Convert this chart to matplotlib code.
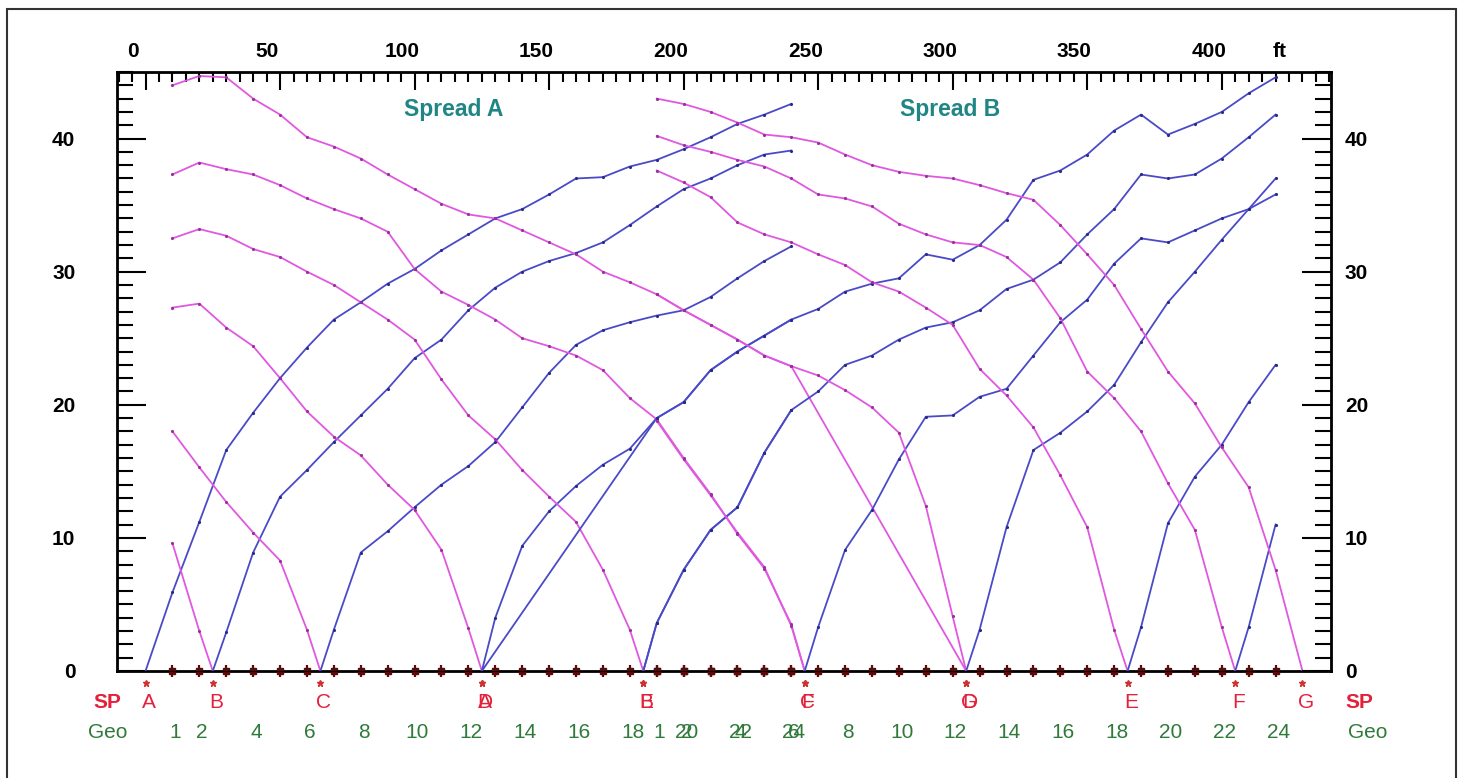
import numpy as np
import matplotlib.pyplot as plt
from matplotlib.patches import Rectangle
from matplotlib.ticker import MultipleLocator

plt.rcParams['font.family'] = ['Liberation Sans', 'DejaVu Sans']

# geophone positions (ft)
geo_a = np.arange(10, 241, 10)
geo_b = np.arange(190, 421, 10)

# shot points (ft) and their letters
sp_a = [0, 25, 65, 125, 185, 245, 305]
sp_b = [125, 185, 245, 305, 365, 405, 430]
sp_names = ['A', 'B', 'C', 'D', 'E', 'F', 'G']

# first-break times, spread A (one value per geophone 1..24)
a_shot_A = [5.9, 11.2, 16.6, 19.4, 22.0, 24.3, 26.4, 27.7, 29.1, 30.2, 31.6, 32.8,
            34.0, 34.7, 35.8, 37.0, 37.1, 37.9, 38.4, 39.2, 40.1, 41.1, 41.8, 42.6]
a_shot_B = [9.6, 3.0, 2.9, 8.9, 13.1, 15.1, 17.2, 19.2, 21.2, 23.5, 24.9, 27.1,
            28.8, 30.0, 30.8, 31.4, 32.2, 33.5, 34.9, 36.2, 37.0, 38.0, 38.8, 39.1]
a_shot_C = [18.0, 15.3, 12.7, 10.4, 8.3, 3.1, 3.1, 8.9, 10.5, 12.3, 14.0, 15.4,
            17.2, 19.8, 22.4, 24.5, 25.6, 26.2, 26.7, 27.1, 28.1, 29.5, 30.8, 31.9]
a_shot_D = [27.3, 27.6, 25.8, 24.4, 22.0, 19.5, 17.6, 16.2, 14.0, 12.1, 9.1, 3.2,
            4.0, 9.4, 12.0, 13.9, 15.5, 16.7, 19.0, 20.2, 22.6, 24.0, 25.2, 26.4]
a_shot_E = [32.5, 33.2, 32.7, 31.7, 31.1, 30.0, 29.0, 27.7, 26.4, 24.9, 21.9, 19.2,
            17.4, 15.1, 13.1, 11.2, 7.6, 3.1, 3.6, 7.6, 10.6, 12.3, 16.4, 19.6]
a_shot_F = [37.3, 38.2, 37.7, 37.3, 36.5, 35.5, 34.7, 34.0, 33.0, 30.2, 28.5, 27.5,
            26.4, 25.0, 24.4, 23.7, 22.6, 20.5, 18.9, 16.0, 13.3, 10.3, 7.7, 3.5]
a_shot_G = [44.0, 44.7, 44.6, 43.0, 41.8, 40.1, 39.4, 38.5, 37.3, 36.2, 35.1, 34.3,
            34.0, 33.1, 32.2, 31.3, 30.0, 29.2, 28.3, 27.1, 26.0, 24.9, 23.7, 22.9]

# first-break times, spread B
b_shot_A = [19.0, 20.2, 22.6, 24.0, 25.2, 26.4, 27.2, 28.5, 29.1, 29.5, 31.3, 30.9,
            32.0, 33.9, 36.9, 37.6, 38.8, 40.6, 41.8, 40.3, 41.1, 42.0, 43.4, 44.6]
b_shot_B = [3.6, 7.6, 10.6, 12.3, 16.4, 19.6, 21.0, 23.0, 23.7, 24.9, 25.8, 26.2,
            27.1, 28.7, 29.4, 30.7, 32.8, 34.7, 37.3, 37.0, 37.3, 38.5, 40.1, 41.8]
b_shot_C = [18.8, 15.9, 13.2, 10.4, 7.8, 3.4, 3.3, 9.1, 12.1, 15.9, 19.1, 19.2,
            20.6, 21.2, 23.7, 26.2, 27.9, 30.6, 32.5, 32.2, 33.1, 34.0, 34.7, 35.8]
b_shot_D = [28.3, 27.1, 26.0, 24.9, 23.7, 22.9, 22.2, 21.1, 19.8, 17.9, 12.4, 4.1,
            3.1, 10.8, 16.6, 17.9, 19.5, 21.5, 24.7, 27.7, 30.0, 32.4, 34.7, 37.0]
b_shot_E = [37.6, 36.7, 35.6, 33.7, 32.8, 32.2, 31.3, 30.5, 29.2, 28.5, 27.3, 26.0,
            22.7, 20.7, 18.3, 14.7, 10.8, 3.1, 3.3, 11.1, 14.6, 17.0, 20.2, 23.0]
b_shot_F = [40.2, 39.5, 39.0, 38.4, 37.9, 37.0, 35.8, 35.5, 34.9, 33.6, 32.8, 32.2,
            32.0, 31.1, 29.4, 26.5, 22.5, 20.5, 18.0, 14.1, 10.6, 3.3, 3.3, 11.0]
b_shot_G = [43.0, 42.6, 42.0, 41.2, 40.3, 40.1, 39.7, 38.8, 38.0, 37.5, 37.2, 37.0,
            36.5, 35.9, 35.4, 33.5, 31.3, 29.0, 25.7, 22.5, 20.1, 16.8, 13.8, 7.6]

# geophone numbers written under the axis
geo_labels = [1, 2, 4, 6, 8, 10, 12, 14, 16, 18, 20, 22, 24]

PINK = '#e058e0'
BLUE = '#4a4ac8'
RED = '#e5203a'
GREEN = '#2f7a3a'


def draw_shot(ax, geo, times, sp):
    t = np.asarray(times, dtype=float)
    left = geo < sp
    right = geo > sp
    if left.any():
        xs = np.append(geo[left], sp)
        ts = np.append(t[left], 0.0)
        ax.plot(xs, ts, color=PINK, lw=1.3, zorder=3)
        ax.plot(geo[left], t[left], '.', ms=2.5, color='#9a309a', zorder=4)
    if right.any():
        xs = np.insert(geo[right], 0, sp)
        ts = np.insert(t[right], 0, 0.0)
        ax.plot(xs, ts, color=BLUE, lw=1.3, zorder=3)
        ax.plot(geo[right], t[right], '.', ms=2.5, color='#2a2a8a', zorder=4)


fig = plt.figure(figsize=(14.62, 7.78), dpi=100)
ax = fig.add_axes([117 / 1462, 1 - 671 / 778, 1214 / 1462, 599 / 778])

spread_a = [a_shot_A, a_shot_B, a_shot_C, a_shot_D, a_shot_E, a_shot_F, a_shot_G]
spread_b = [b_shot_A, b_shot_B, b_shot_C, b_shot_D, b_shot_E, b_shot_F, b_shot_G]
for times, sp in zip(spread_a, sp_a):
    draw_shot(ax, geo_a, times, sp)
for times, sp in zip(spread_b, sp_b):
    draw_shot(ax, geo_b, times, sp)

ax.set_xlim(-10.6, 440.6)
ax.set_ylim(0, 45)

for s in ax.spines.values():
    s.set_linewidth(2)

# top distance axis
ax.xaxis.set_major_locator(MultipleLocator(50))
ax.xaxis.set_minor_locator(MultipleLocator(5))
ax.tick_params(axis='x', which='both', direction='in', top=True, bottom=False,
               labeltop=False, labelbottom=False, width=1.5)
ax.tick_params(axis='x', which='major', length=13)
ax.tick_params(axis='x', which='minor', length=7)
xt = ax.get_xaxis_transform()
for v in range(0, 401, 50):
    ax.text(v - 4.8, 1.035, str(v), transform=xt, ha='center', va='center',
            fontsize=15, fontweight='bold')
ax.text(0.958, 1.035, 'ft', transform=ax.transAxes, ha='center', va='center',
        fontsize=15, fontweight='bold')

# time axes, left and right
ax2 = ax.twinx()
ax2.set_ylim(ax.get_ylim())
for a, pad in [(ax, 30), (ax2, 10)]:
    a.yaxis.set_major_locator(MultipleLocator(10))
    a.yaxis.set_minor_locator(MultipleLocator(1))
    a.tick_params(axis='y', which='both', direction='in', width=1.5, pad=pad,
                  labelsize=15)
    a.tick_params(axis='y', which='major', length=21)
    a.tick_params(axis='y', which='minor', length=11.5)
    for lab in a.get_yticklabels():
        lab.set_fontweight('bold')
ax2.tick_params(axis='x', which='both', top=False, bottom=False)

ax.text(0.277, 0.937, 'Spread A', transform=ax.transAxes, ha='center', va='center',
        fontsize=16.5, fontweight='bold', color='#1f8585')
ax.text(0.686, 0.937, 'Spread B', transform=ax.transAxes, ha='center', va='center',
        fontsize=16.5, fontweight='bold', color='#1f8585')

# geophone markers along the zero line
all_geo = np.concatenate([geo_a, geo_b])
ax.plot(all_geo, np.zeros_like(all_geo), '|', ms=9, mew=1.6, color='#5c0a0a',
        clip_on=False, zorder=6)
ax.plot(all_geo, np.zeros_like(all_geo), 's', ms=5, color='#5c0a0a',
        clip_on=False, zorder=6)

# shot point stars and letters
for sps in (sp_a, sp_b):
    ax.plot(sps, [-0.02] * len(sps), '*', ms=4.5, color='#d03030', transform=xt,
            clip_on=False)
    for x, name in zip(sps, sp_names):
        ax.text(x + 1.2, -0.053, name, transform=xt, ha='center', va='center',
                fontsize=15, color=RED)

# geophone numbers
for geo in (geo_a, geo_b):
    for n in geo_labels:
        ax.text(geo[n - 1] + 1, -0.102, str(n), transform=xt, ha='center',
                va='center', fontsize=15, color=GREEN)

for xa in (-0.008, 1.023):
    ax.text(xa, -0.053, 'SP', transform=ax.transAxes, ha='center', va='center',
            fontsize=15, fontweight='bold', color=RED)
for xa in (-0.0074, 1.030):
    ax.text(xa, -0.102, 'Geo', transform=ax.transAxes, ha='center', va='center',
            fontsize=15, color=GREEN)

# panel frame
fig.add_artist(Rectangle((7 / 1462, -0.05), 1449 / 1462, 1.038, fill=False,
                         lw=1.5, ec='#333333', transform=fig.transFigure))

fig.savefig('out.png', dpi=100)
